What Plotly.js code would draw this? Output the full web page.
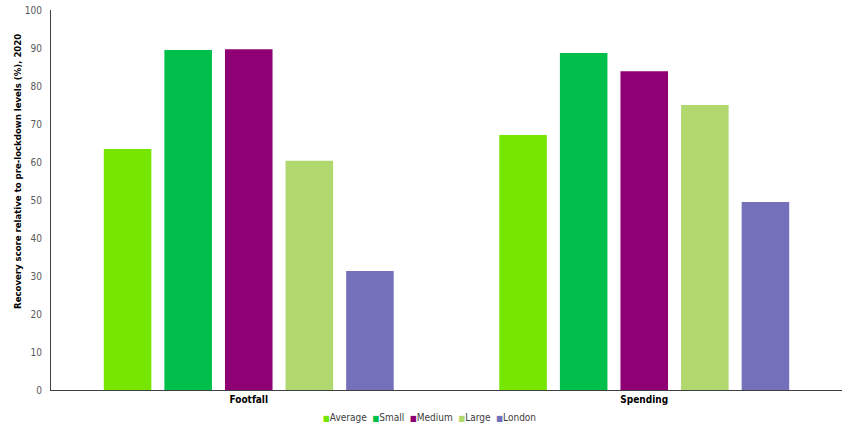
<!DOCTYPE html>
<html>
<head>
<meta charset="utf-8">
<script src="https://cdn.plot.ly/plotly-3.0.1.min.js"></script>
<style>html,body{margin:0;padding:0;background:#fff;}#chart{width:853px;height:432px;}</style>
</head>
<body>
<div id="chart"></div>
<script>
const categories = ["<b>Footfall</b>", "<b>Spending</b>"];
const seriesNames = ["Average", "Small", "Medium", "Large", "London"];
const averageVals = [63.4, 67.1];
const smallVals = [89.5, 88.7];
const mediumVals = [89.7, 83.9];
const largeVals = [60.3, 75.0];
const londonVals = [31.3, 49.5];
const colors = ["#76E600", "#00C04B", "#8E0073", "#B1D86F", "#7570BA"];
const yTicks = [0, 10, 20, 30, 40, 50, 60, 70, 80, 90, 100];
const yTitle = "Recovery score relative to pre-lockdown levels (%), 2020";

const allVals = [averageVals, smallVals, mediumVals, largeVals, londonVals];
const font = "'Liberation Sans Narrow', 'DejaVu Sans Condensed', 'Liberation Sans', sans-serif";

const traces = seriesNames.map((n, i) => ({
  type: 'bar', name: n, x: categories, y: allVals[i],
  marker: {color: colors[i]}, hoverinfo: 'skip'
}));

const legendText = seriesNames.map((n, i) =>
  `<span style="color:${colors[i]};font-size:8px">■</span>${n}`).join('&nbsp;&nbsp;');

const layout = {
  width: 853, height: 432,
  margin: {l: 51, r: 11, t: 10, b: 42, autoexpand: false},
  paper_bgcolor: '#fff', plot_bgcolor: '#fff',
  barmode: 'group', bargap: 0.234, bargroupgap: 0.215,
  font: {family: font, size: 10, color: '#595959'},
  showlegend: false,
  annotations: [{
    xref: 'paper', yref: 'paper', x: 0.478, y: -0.072, xanchor: 'center', yanchor: 'middle',
    showarrow: false, text: legendText,
    font: {family: font, size: 10, color: '#404040'}
  }, {
    xref: 'paper', yref: 'paper', x: -0.0417, y: 0.574, xanchor: 'center', yanchor: 'middle',
    showarrow: false, textangle: -90, text: '<b>' + yTitle + '</b>',
    font: {family: font, size: 9.5, color: '#000'}
  }],
  xaxis: {showline: true, linecolor: '#404040', linewidth: 1, ticks: '',
    tickfont: {family: font, size: 10, color: '#000'}, showgrid: false, zeroline: false},
  yaxis: {range: [0, 100], tickvals: yTicks, ticktext: yTicks.map(String), showline: true,
    linecolor: '#404040', linewidth: 1, ticks: '', showgrid: false, zeroline: false,
    ticklabelstandoff: 6,
    tickfont: {family: font, size: 10, color: '#595959'}}
};

Plotly.newPlot('chart', traces, layout, {staticPlot: true});
</script>
</body>
</html>
